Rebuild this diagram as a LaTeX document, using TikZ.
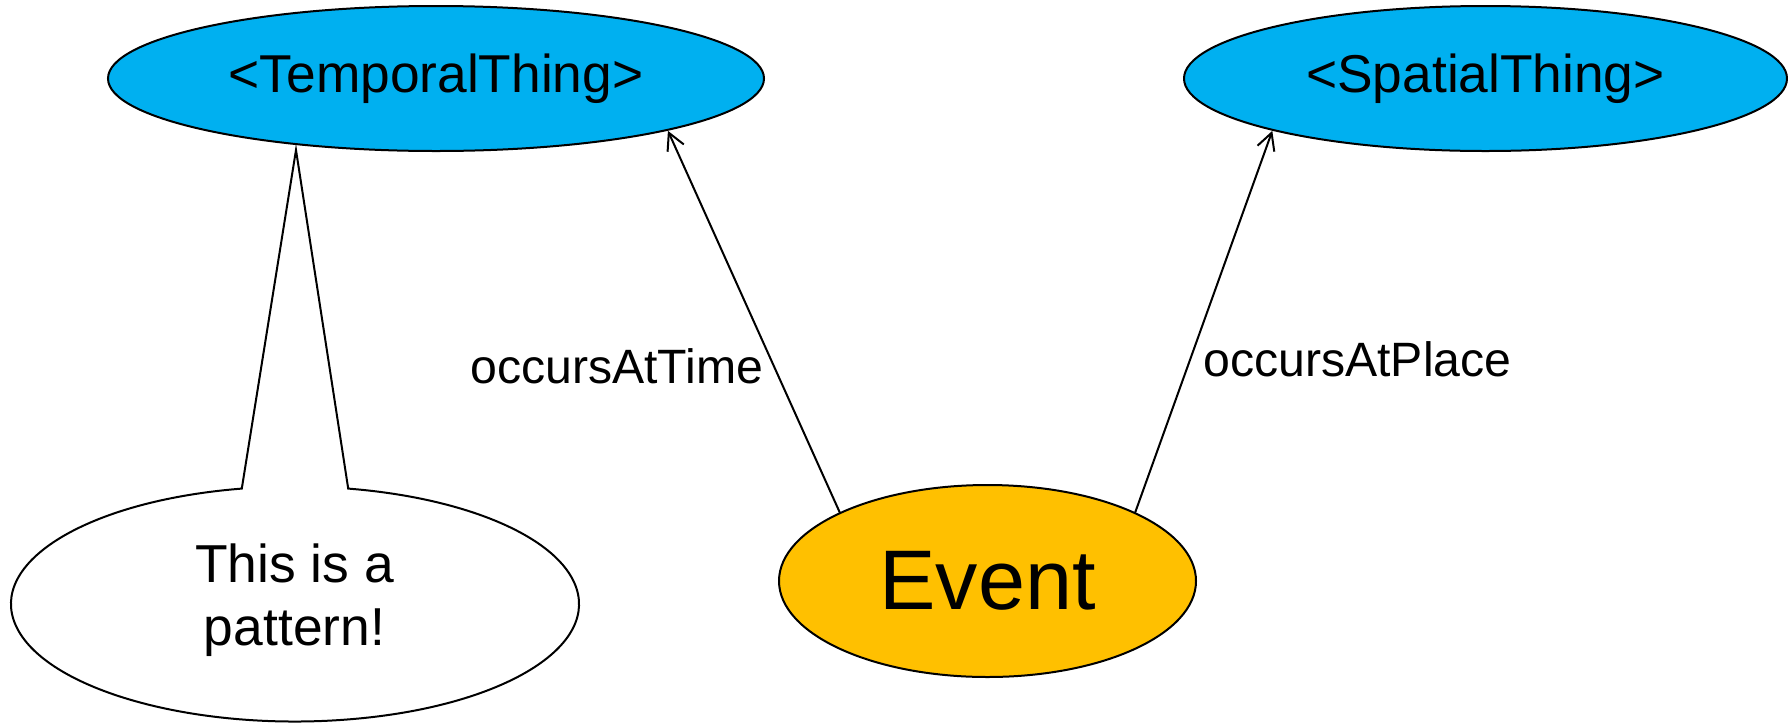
\documentclass[tikz,border=0pt]{standalone}
\usepackage{fontspec}
\setmainfont{Liberation Sans}
\usetikzlibrary{shapes.geometric,arrows.meta}
\definecolor{ptblue}{HTML}{00B0F0}
\definecolor{ptorange}{HTML}{FFC000}
\begin{document}
\begin{tikzpicture}[x=0.5pt,y=-0.5pt,
  concept/.style={ellipse, draw=black, line width=1pt, inner sep=0pt, fill=ptblue,
    minimum height=72.5pt, font=\fontsize{26.65pt}{32pt}\selectfont},
  eventnode/.style={ellipse, draw=black, line width=1pt, inner sep=0pt, fill=ptorange,
    minimum width=208.5pt, minimum height=96pt, font=\fontsize{42.3pt}{50pt}\selectfont},
  relarrow/.style={line width=1pt, -{Straight Barb[length=8.4pt,width=8.9pt,line width=1pt]}},
  rellabel/.style={inner sep=0pt, anchor=base west, font=\fontsize{24.1pt}{29pt}\selectfont},
  notetext/.style={inner sep=0pt, align=center, font=\fontsize{26.7pt}{31.8pt}\selectfont},
  callout/.style={draw=black, line width=1pt, fill=white, line join=miter}
]
\useasboundingbox (0,0) rectangle (1788,724);

\node[concept, minimum width=328pt] (tt) at (436,78.5) {<TemporalThing>};
\node[concept, minimum width=301.5pt] (st) at (1485.5,78.5) {<SpatialThing>};
\node[eventnode] (ev) at (987.5,581) {Event};

\draw[relarrow] ([shift={(135:104.25pt and 48pt)}]ev.center) -- ([shift={(-45:164pt and 37pt)}]tt.center);
\draw[relarrow] ([shift={(45:104.25pt and 48pt)}]ev.center) -- ([shift={(-135:150.75pt and 37pt)}]st.center);

\node[rellabel] (lt) at (470,383) {occursAtTime};
\node[rellabel] (lp) at (1203,376) {occursAtPlace};

\coordinate (nc) at (295,604);
\coordinate (tip) at (296,150);
\draw[callout] ([shift={(100.8:142pt and 58.75pt)}]nc) arc[start angle=100.8, end angle=439.2, x radius=142pt, y radius=58.75pt] -- (tip) -- cycle;
\node[notetext] (note) at (294.5,600) {This is a\\pattern!};
\end{tikzpicture}
\end{document}
